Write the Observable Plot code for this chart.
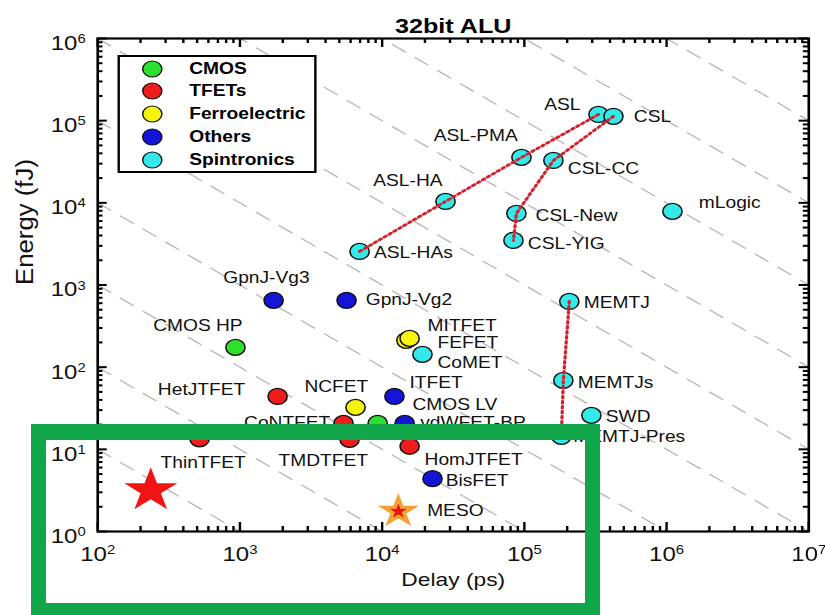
<!DOCTYPE html>
<html><head><meta charset="utf-8">
<script src="https://cdn.jsdelivr.net/npm/d3@7"></script>
<script src="https://cdn.jsdelivr.net/npm/@observablehq/plot@0.6"></script>
<style>
html,body{margin:0;padding:0;background:#fff;}
#page{position:relative;width:825px;height:615px;overflow:hidden;font-family:"Liberation Sans",Arial,sans-serif;}
#stretch{position:absolute;left:0;top:0;width:688px;height:615px;transform-origin:0 0;transform:scaleX(1.1991);}
#legend{position:absolute;left:97.5px;top:55px;width:166.7px;height:118px;box-sizing:border-box;border:2.5px solid #000;background:#fff;}
.lsw{position:absolute;width:20px;height:20px;}
.ltx{position:absolute;font-weight:bold;font-size:16px;line-height:20px;color:#000;white-space:nowrap;}
#greenbox{position:absolute;left:31px;top:424px;width:569px;height:194px;box-sizing:border-box;border:15px solid #12a64a;border-top-width:16px;}
</style></head>
<body><div id="page"><div id="stretch"></div><div id="greenbox"></div></div>
<script>
// ---- data ----
const categories = ["CMOS", "TFETs", "Ferroelectric", "Others", "Spintronics"];
const categoryColors = ["#2ee02e", "#ee1c1c", "#f4f40c", "#1414d8", "#33eaea"];

const deviceNames  = ["CMOS HP", "CMOS LV", "HetJTFET", "ThinTFET", "CoNTFET", "TMDTFET", "HomJTFET",
  "NCFET", "FEFET", "MITFET", "GpnJ-Vg3", "GpnJ-Vg2", "ITFET", "vdWFET-BP", "BisFET",
  "ASL-HAs", "ASL-HA", "ASL-PMA", "ASL", "CSL", "CSL-CC", "CSL-New", "CSL-YIG", "mLogic",
  "CoMET", "MEMTJ", "MEMTJs", "SWD", "MEMTJ-Pres"];
const deviceGroups = ["CMOS", "CMOS", "TFETs", "TFETs", "TFETs", "TFETs", "TFETs",
  "Ferroelectric", "Ferroelectric", "Ferroelectric", "Others", "Others", "Others", "Others", "Others",
  "Spintronics", "Spintronics", "Spintronics", "Spintronics", "Spintronics", "Spintronics", "Spintronics", "Spintronics", "Spintronics",
  "Spintronics", "Spintronics", "Spintronics", "Spintronics", "Spintronics"];
const delayPs  = [930, 9300, 1840, 520, 5350, 5900, 15600,
  6500, 14800, 15600, 1725, 5620, 12200, 14400, 22600,
  6940, 27900, 95400, 332000, 423000, 160000, 87900, 83800, 1100000,
  19200, 207000, 188000, 296000, 182000];
const energyFJ = [174, 20.7, 44, 13.4, 20.7, 13.2, 10.9,
  32.4, 212, 224, 650, 650, 44, 20.7, 4.4,
  2560, 10400, 35700, 119000, 113000, 32800, 7430, 3490, 7860,
  143, 631, 69, 25.9, 14.4];

const starNames = ["Target", "MESO"];
const starDelayPs = [236, 13000];
const starEnergyFJ = [3.16, 1.76];

const spinChains = [["ASL-HAs", "ASL-HA", "ASL-PMA", "ASL"], ["CSL", "CSL-CC", "CSL-New", "CSL-YIG"], ["MEMTJ", "MEMTJs", "MEMTJ-Pres"]];
const edpDecades = [3, 4, 5, 6, 7, 8, 9, 10, 11, 12];   // constant energy-delay product guides, 10^k fJ·ps
const xTickValues = [1e2, 1e3, 1e4, 1e5, 1e6, 1e7];
const yTickValues = [1e0, 1e1, 1e2, 1e3, 1e4, 1e5, 1e6];

// label placement (anchor, dx, dy) – layout only
const labelPlacement = {
  "CMOS HP": ["end", 6, -22], "GpnJ-Vg3": ["middle", -6, -22], "GpnJ-Vg2": ["start", 16, 0],
  "HetJTFET": ["end", -27, -7], "NCFET": ["middle", -16, -21], "ITFET": ["start", 12.5, -14],
  "CMOS LV": ["start", 29, -18], "vdWFET-BP": ["start", 13, 0], "CoNTFET": ["end", -11, 0],
  "ThinTFET": ["middle", 3, 24], "TMDTFET": ["middle", -22, 21], "HomJTFET": ["start", 12.5, 14],
  "BisFET": ["start", 11, 2], "MESO": ["start", 24, 0], "MITFET": ["start", 15, -13],
  "FEFET": ["start", 26, 3], "CoMET": ["start", 12.5, 8.5], "ASL-HAs": ["start", 12, 1],
  "ASL-HA": ["end", -2.5, -21], "ASL-PMA": ["end", -3, -22], "ASL": ["end", -15, -10],
  "CSL": ["start", 17, 1], "CSL-CC": ["start", 12, 8], "CSL-New": ["start", 16, 2],
  "CSL-YIG": ["start", 12, 3], "mLogic": ["start", 22, -9], "MEMTJ": ["start", 12, 1],
  "MEMTJs": ["start", 12, 2], "SWD": ["start", 12, 2], "MEMTJ-Pres": ["start", 10, 1]
};

// ---- layout ----
const W = 688, H = 615, ML = 81, MR = 14, MT = 38, MB = 84;
const pxPerDecX = (W - ML - MR) / 5, pxPerDecY = (H - MT - MB) / 6;
const fx = len => Math.pow(10, len / pxPerDecX);
const fy = len => Math.pow(10, len / pxPerDecY);

// ---- derived tables ----
const points = deviceNames.map((name, i) => ({name, group: deviceGroups[i], delay: delayPs[i], energy: energyFJ[i]}));
const stars = starNames.map((name, i) => ({name, delay: starDelayPs[i], energy: starEnergyFJ[i]}));
const byName = new Map(points.map(d => [d.name, d]));
const chainData = spinChains.flatMap((c, j) => c.map(n => ({chain: j, ...byName.get(n)})));
const xMin = xTickValues[0], xMax = xTickValues[xTickValues.length - 1];
const yMin = yTickValues[0], yMax = yTickValues[yTickValues.length - 1];
const edpLines = edpDecades.flatMap(k => [xMin, xMax].map(x => ({k, delay: x, energy: Math.pow(10, k) / x})));
const minorX = xTickValues.slice(0, -1).flatMap(v => [2,3,4,5,6,7,8,9].map(m => m * v));
const minorY = yTickValues.slice(0, -1).flatMap(v => [2,3,4,5,6,7,8,9].map(m => m * v));
const xTickMarks = [...xTickValues.map(v => ({v, len: 9})), ...minorX.map(v => ({v, len: 5}))];
const yTickMarks = [...yTickValues.map(v => ({v, len: 8})), ...minorY.map(v => ({v, len: 4.5}))];
const supFmt = d => `10^${Math.round(Math.log10(d))}`;
const FONT = '"Liberation Sans", Arial, sans-serif';

const labelMarks = [...points, ...stars].filter(d => labelPlacement[d.name]).map(d => {
  const [anchor, dx, dy] = labelPlacement[d.name];
  return Plot.text([d], {x: "delay", y: "energy", text: "name", textAnchor: anchor, dx, dy, fontSize: 16, fill: "#111"});
});

const tickStyle = {stroke: "#000", strokeWidth: 2};
const tickMarks = [
  Plot.ruleX(xTickMarks, {x: "v", y1: yMin, y2: d => yMin * fy(d.len), ...tickStyle}),
  Plot.ruleX(xTickMarks, {x: "v", y1: yMax, y2: d => yMax / fy(d.len), ...tickStyle}),
  Plot.ruleY(yTickMarks, {y: "v", x1: xMin, x2: d => xMin * fx(d.len), ...tickStyle}),
  Plot.ruleY(yTickMarks, {y: "v", x1: xMax, x2: d => xMax / fx(d.len), ...tickStyle})
];

const chart = Plot.plot({
  width: W, height: H,
  marginLeft: ML, marginRight: MR, marginTop: MT, marginBottom: MB,
  x: {type: "log", domain: [xMin, xMax], axis: null},
  y: {type: "log", domain: [yMin, yMax], axis: null},
  color: {domain: categories, range: categoryColors},
  style: {fontFamily: FONT, background: "white", color: "black", overflow: "visible"},
  marks: [
    Plot.line(edpLines, {x: "delay", y: "energy", z: "k", clip: true, stroke: "#b9b9b9", strokeWidth: 1.3, strokeDasharray: "13,10"}),
    Plot.dot(points, {x: "delay", y: "energy", fill: "group", stroke: "#111", strokeWidth: 1.3, r: 8}),
    Plot.line(chainData, {x: "delay", y: "energy", z: "chain", stroke: "#d61f2c", strokeWidth: 2.7, strokeDasharray: "2,3"}),
    Plot.dot(stars.slice(0, 1), {x: "delay", y: "energy", symbol: "star", r: 13.9, fill: "#f21414"}),
    Plot.dot(stars.slice(1), {x: "delay", y: "energy", symbol: "star", r: 8.5, fill: "#f9c846", stroke: "#f5a031", strokeWidth: 2.5}),
    Plot.dot(stars.slice(1), {x: "delay", y: "energy", symbol: "star", r: 4.8, fill: "#ee1414"}),
    ...labelMarks,
    ...tickMarks,
    Plot.frame({stroke: "#000", strokeWidth: 2.2}),
    Plot.text(xTickValues, {x: d => d, frameAnchor: "bottom", dy: 29, text: supFmt, fontSize: 20, fill: "#111"}),
    Plot.text(yTickValues, {y: d => d, frameAnchor: "left", dx: -10, dy: 5, textAnchor: "end", text: supFmt, fontSize: 20, fill: "#111"}),
    Plot.text(["32bit ALU"], {frameAnchor: "top", dy: -20, fontSize: 21, fontWeight: "bold", fill: "#000"}),
    Plot.text(["Delay (ps)"], {frameAnchor: "bottom", dy: 54, fontSize: 19, fill: "#111"}),
    Plot.text(["Energy (fJ)"], {frameAnchor: "left", dx: -60, rotate: -90, fontSize: 20, fill: "#111"})
  ]
});

// superscript exponents; stretch the y label to the reference length
chart.querySelectorAll("text").forEach(t => {
  const m = /^10\^(\d+)$/.exec(t.textContent);
  if (m) {
    t.textContent = "10";
    const ts = document.createElementNS("http://www.w3.org/2000/svg", "tspan");
    ts.setAttribute("dy", "-0.55em");
    ts.style.fontSize = "0.62em";
    ts.textContent = m[1];
    t.appendChild(ts);
  }
  if (t.textContent === "Energy (fJ)") {
    t.setAttribute("textLength", "126");
    t.setAttribute("lengthAdjust", "spacingAndGlyphs");
  }
});

const stretch = document.getElementById("stretch");
stretch.appendChild(chart);

// legend
const legend = document.createElement("div");
legend.id = "legend";
categories.forEach((c, i) => {
  const cy = 11.5 + i * 22.75;
  const sw = document.createElementNS("http://www.w3.org/2000/svg", "svg");
  sw.setAttribute("class", "lsw");
  sw.setAttribute("viewBox", "0 0 20 20");
  sw.style.left = (27.5 - 10) + "px";
  sw.style.top = (cy - 10) + "px";
  sw.innerHTML = `<circle cx="10" cy="10" r="8" fill="${categoryColors[i]}" stroke="#111" stroke-width="1.2"/>`;
  legend.appendChild(sw);
  const tx = document.createElement("div");
  tx.className = "ltx";
  tx.style.left = "58.3px";
  tx.style.top = (cy - 10) + "px";
  tx.textContent = c;
  legend.appendChild(tx);
});
stretch.appendChild(legend);
</script>
</body></html>
